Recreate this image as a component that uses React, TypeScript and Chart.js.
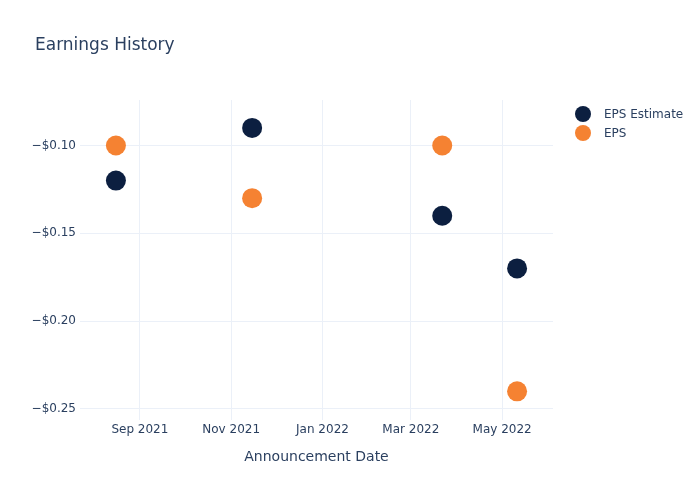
import React, { useEffect, useRef } from "react";
import { Chart, registerables } from "chart.js";

Chart.register(...registerables);

const announcementDates = ["2021-08-16", "2021-11-15", "2022-03-22", "2022-05-11"];
const epsEstimate = [-0.12, -0.09, -0.14, -0.17];
const epsActual = [-0.1, -0.13, -0.1, -0.24];
const xTickDates = ["2021-09-01", "2021-11-01", "2022-01-01", "2022-03-01", "2022-05-01"];
const xTickLabels = ["Sep 2021", "Nov 2021", "Jan 2022", "Mar 2022", "May 2022"];
const yTickValues = [-0.1, -0.15, -0.2, -0.25];
const xRange = ["2021-07-23", "2022-06-04"];
const yRange = [-0.2563, -0.0741];

const seriesNames = ["EPS Estimate", "EPS"];
const seriesColors = ["#0c1f40", "#f58232"];

const FONT = "'DejaVu Sans', Verdana, sans-serif";
const TEXT = "#2a3f5f";
const GRID = "#ebf0f8";

const ts = (s: string) => Date.parse(s + "T00:00:00Z");

const overlay = {
  id: "overlay",
  afterDraw(chart: any) {
    const ctx = chart.ctx;
    ctx.save();
    ctx.fillStyle = TEXT;
    ctx.font = `17px ${FONT}`;
    ctx.textBaseline = "middle";
    ctx.textAlign = "left";
    ctx.fillText("Earnings History", 35, 46);
    ctx.font = `12px ${FONT}`;
    seriesNames.forEach((name, i) => {
      const y = 114 + i * 19;
      ctx.beginPath();
      ctx.arc(583, y, 8, 0, Math.PI * 2);
      ctx.fillStyle = seriesColors[i];
      ctx.fill();
      ctx.fillStyle = TEXT;
      ctx.fillText(name, 604, y + 1);
    });
    ctx.restore();
  },
};

export default function App() {
  const ref = useRef<HTMLCanvasElement>(null);
  useEffect(() => {
    if (!ref.current) return;
    const chart = new Chart(ref.current, {
      type: "scatter",
      data: {
        datasets: [
          {
            label: seriesNames[0],
            data: announcementDates.map((d, i) => ({ x: ts(d), y: epsEstimate[i] })),
            backgroundColor: seriesColors[0],
            borderWidth: 0,
            pointRadius: 10,
            pointHoverRadius: 10,
          },
          {
            label: seriesNames[1],
            data: announcementDates.map((d, i) => ({ x: ts(d), y: epsActual[i] })),
            backgroundColor: seriesColors[1],
            borderWidth: 0,
            pointRadius: 10,
            pointHoverRadius: 10,
          },
        ],
      },
      options: {
        responsive: false,
        animation: false,
        layout: { padding: { left: 0, top: 100, right: 147, bottom: 0 } },
        plugins: { legend: { display: false }, tooltip: { enabled: false }, title: { display: false } },
        scales: {
          x: {
            type: "linear",
            min: ts(xRange[0]),
            max: ts(xRange[1]),
            afterBuildTicks: (axis: any) => {
              axis.ticks = xTickDates.map((d) => ({ value: ts(d) }));
            },
            afterFit: (axis: any) => {
              axis.height = 80;
            },
            ticks: {
              autoSkip: false,
              maxRotation: 0,
              padding: 3,
              color: TEXT,
              font: { family: FONT, size: 12 },
              callback: (v: any) => {
                const idx = xTickDates.findIndex((d) => ts(d) === v);
                return idx >= 0 ? xTickLabels[idx] : "";
              },
            },
            grid: { color: GRID, drawTicks: false, lineWidth: 1 },
            border: { display: false },
            title: {
              display: true,
              text: "Announcement Date",
              color: TEXT,
              font: { family: FONT, size: 14 },
              padding: { top: 0, bottom: 34 },
            },
          },
          y: {
            min: yRange[0],
            max: yRange[1],
            afterBuildTicks: (axis: any) => {
              axis.ticks = yTickValues.map((v) => ({ value: v }));
            },
            afterFit: (axis: any) => {
              axis.width = 80;
            },
            ticks: {
              padding: 4,
              color: TEXT,
              font: { family: FONT, size: 12 },
              callback: (v: any) => "\u2212$" + Math.abs(Number(v)).toFixed(2),
            },
            grid: { color: GRID, drawTicks: false, lineWidth: 1 },
            border: { display: false },
          },
        },
      },
      plugins: [overlay],
    } as any);
    return () => chart.destroy();
  }, []);
  return (
    <div style={{ position: "absolute", left: 0, top: 0, width: 700, height: 500, background: "#fff" }}>
      <canvas ref={ref} width={700} height={500} />
    </div>
  );
}
